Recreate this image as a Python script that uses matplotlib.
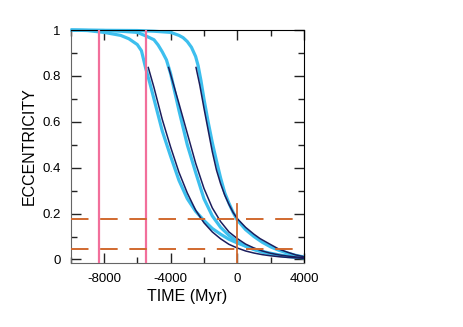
import matplotlib
matplotlib.use('Agg')
import matplotlib.pyplot as plt
from matplotlib.ticker import MultipleLocator

plt.rcParams['font.family'] = ['Liberation Sans', 'DejaVu Sans']

# light blue curves (time in Myr, eccentricity)
t_lb1 = [-10000, -9000, -8000, -7000, -6500, -6000, -5750, -5500, -5250, -5000, -4750, -4500,
         -4000, -3500, -3000, -2500, -2000, -1500, -1000, -500, 0, 500, 1000, 1500, 2000,
         2500, 3000, 3500, 4000]
e_lb1 = [1.0, 0.998, 0.99, 0.977, 0.962, 0.937, 0.91, 0.835, 0.77, 0.70, 0.63, 0.56,
         0.45, 0.345, 0.265, 0.21, 0.17, 0.135, 0.11, 0.088, 0.072, 0.058, 0.045, 0.035, 0.027,
         0.02, 0.015, 0.011, 0.008]

t_lb2 = [-10000, -8000, -7000, -6000, -5500, -5000, -4750, -4500, -4250, -4000, -3750, -3500,
         -3000, -2500, -2000, -1500, -1000, -500, 0, 500, 1000, 1500, 2000, 2500, 3000, 3500, 4000]
e_lb2 = [1.0, 0.998, 0.995, 0.99, 0.975, 0.958, 0.935, 0.905, 0.87, 0.81, 0.73, 0.65,
         0.50, 0.38, 0.265, 0.19, 0.14, 0.105, 0.078, 0.058, 0.043, 0.032, 0.024, 0.018, 0.013, 0.01, 0.007]

t_lb3 = [-10000, -6000, -5000, -4000, -3500, -3250, -3000, -2750, -2500, -2350, -2180, -2000,
         -1750, -1500, -1250, -1000, -750, -500, -250, 0, 500, 1000, 1500, 2000, 2500, 3000, 3500, 4000]
e_lb3 = [1.0, 0.998, 0.995, 0.99, 0.977, 0.967, 0.95, 0.925, 0.885, 0.845, 0.78, 0.70,
         0.60, 0.51, 0.43, 0.355, 0.29, 0.245, 0.205, 0.172, 0.13, 0.10, 0.075, 0.055, 0.04, 0.028, 0.018, 0.011]

# dark curves
t_d1 = [-5340, -5000, -4500, -4000, -3500, -3000, -2500, -2000, -1500, -1000, -500, 0,
        500, 1000, 1500, 2000, 2500, 3000, 3500, 4000]
e_d1 = [0.837, 0.75, 0.61, 0.49, 0.38, 0.29, 0.215, 0.16, 0.12, 0.09, 0.066, 0.05,
        0.037, 0.028, 0.021, 0.016, 0.012, 0.009, 0.007, 0.005]

t_d2 = [-4120, -3500, -3000, -2500, -2000, -1500, -1000, -500, 0, 500, 1000, 1500, 2000,
        2500, 3000, 3500, 4000]
e_d2 = [0.837, 0.68, 0.55, 0.42, 0.31, 0.225, 0.165, 0.12, 0.091, 0.067, 0.05, 0.037, 0.027,
        0.02, 0.015, 0.011, 0.008]

t_d3 = [-2476, -2250, -2000, -1750, -1500, -1250, -1000, -750, -500, -250, 0, 500, 1000,
        1364, 2000, 2500, 3000, 3500, 4000]
e_d3 = [0.837, 0.76, 0.66, 0.565, 0.47, 0.39, 0.33, 0.28, 0.24, 0.205, 0.178, 0.14, 0.11,
        0.091, 0.065, 0.045, 0.032, 0.02, 0.012]

pink_times = [-8300, -5460]
dash_levels = [0.175, 0.045]
now_time = 0
now_top = 0.24

fig = plt.figure(figsize=(4.63, 3.27), dpi=100)
ax = fig.add_axes([0.1525, 0.196, 0.504, 0.712])

light = '#3dbfee'
dark = '#1b1d5c'
for t, e in [(t_lb1, e_lb1), (t_lb2, e_lb2), (t_lb3, e_lb3)]:
    ax.plot(t, e, color=light, lw=2.3, zorder=2, clip_on=False, solid_capstyle='butt')
for t, e in [(t_d1, e_d1), (t_d2, e_d2), (t_d3, e_d3)]:
    ax.plot(t, e, color=dark, lw=1.1, zorder=3)

for t in pink_times:
    ax.axvline(t, color='#f26f9b', lw=1.6, zorder=4)
for lev in dash_levels:
    ax.axhline(lev, color='#d1692f', lw=1.4, dashes=(9, 6), zorder=5)
ax.plot([now_time, now_time], [-0.015, now_top], color='#d1692f', lw=1.3, zorder=5)

ax.set_xlim(-10000, 4000)
ax.set_ylim(-0.015, 1.0)
ax.xaxis.set_major_locator(MultipleLocator(4000))
ax.xaxis.set_minor_locator(MultipleLocator(2000))
ax.set_xticks([-8000, -4000, 0, 4000])
ax.set_xticklabels(['-8000', '-4000', '0', '4000'])
ax.set_yticks([0, 0.2, 0.4, 0.6, 0.8, 1.0])
ax.set_yticklabels(['0', '0.2', '0.4', '0.6', '0.8', '1'])
ax.yaxis.set_minor_locator(MultipleLocator(0.1))
ax.tick_params(which='both', direction='in', top=True, right=True, labelsize=9.5, color='#222')
ax.tick_params(which='major', length=7, width=1, pad=7)
ax.tick_params(which='minor', length=4, width=1)

for side in ['left', 'bottom']:
    ax.spines[side].set_color('#666')
for side in ['top', 'right']:
    ax.spines[side].set_color('black')

ax.set_xlabel('TIME (Myr)', fontsize=11.5, labelpad=3)
ax.set_ylabel('ECCENTRICITY', fontsize=11.5, labelpad=4)

fig.savefig('out.png', dpi=100)
